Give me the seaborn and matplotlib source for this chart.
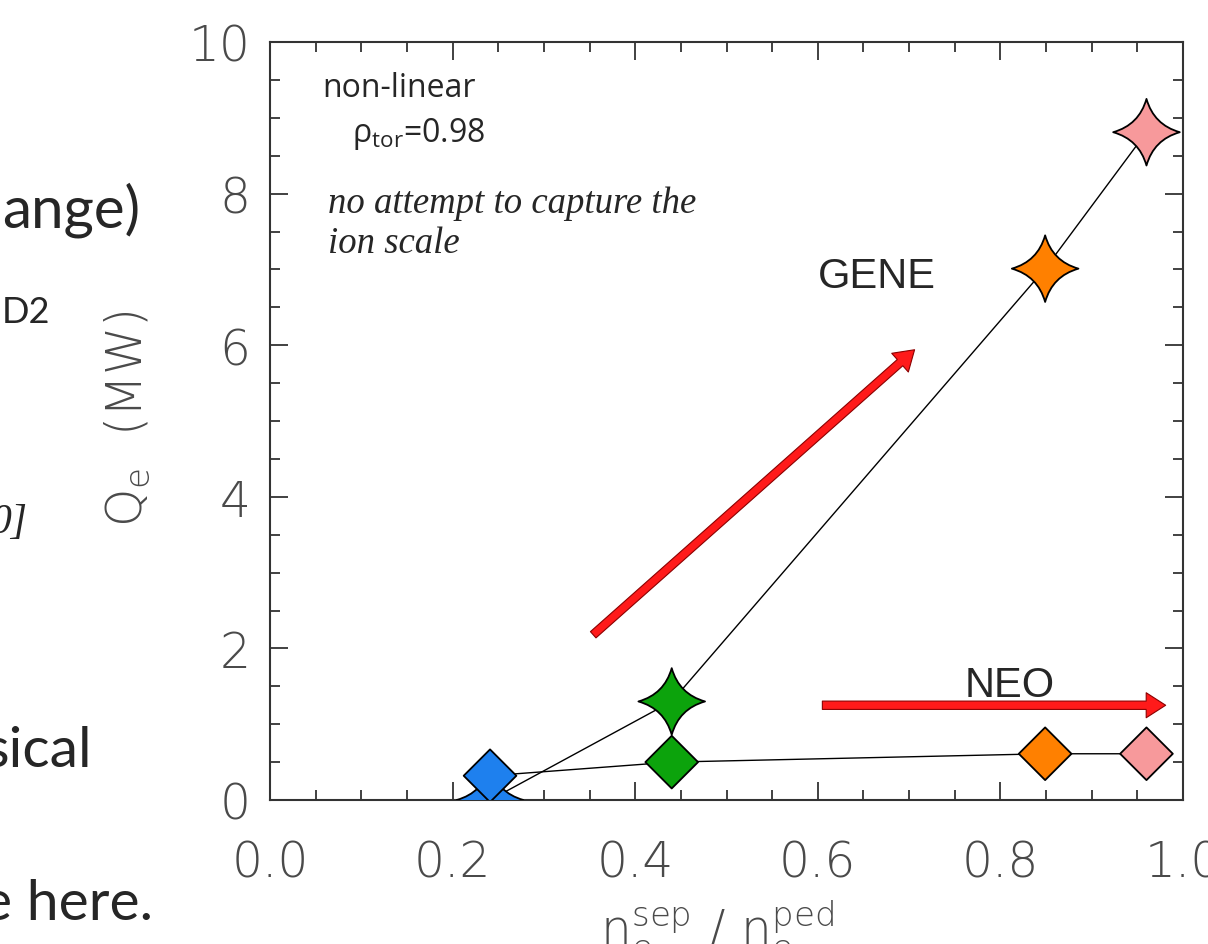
import numpy as np
import pandas as pd
import matplotlib
matplotlib.use("Agg")
import matplotlib.pyplot as plt
from matplotlib.path import Path
from matplotlib.patches import FancyArrowPatch
from matplotlib.ticker import MultipleLocator
import seaborn as sns

# ---------------- data ----------------
cases = ["case1", "case2", "case3", "case4"]
x_ratio = [0.241, 0.440, 0.849, 0.960]          # n_e^sep / n_e^ped
gene_qe = [0.0, 1.30, 7.01, 8.81]               # GENE Q_e (MW)
neo_qe = [0.32, 0.50, 0.61, 0.61]               # NEO Q_e (MW)
case_colors = ["#1e80ee", "#0ca30c", "#ff8000", "#f7999b"]
x_ticks = [0.0, 0.2, 0.4, 0.6, 0.8, 1.0]
x_tick_labels = ["0.0", "0.2", "0.4", "0.6", "0.8", "1.0"]
y_ticks = [0, 2, 4, 6, 8, 10]
y_tick_labels = ["0", "2", "4", "6", "8", "10"]
gene_arrow = [(0.354, 2.18), (0.706, 5.94)]
neo_arrow = [(0.605, 1.25), (0.981, 1.25)]

sns.set_style("ticks")
plt.rcParams["font.family"] = ["DejaVu Sans"]

W, H = 1208, 945
fig = plt.figure(figsize=(W / 100, H / 100), dpi=100)
ax = fig.add_axes([270 / W, (H - 801) / H, 913 / W, 758 / H])

df = pd.DataFrame({"case": cases, "x": x_ratio, "gene": gene_qe, "neo": neo_qe})
palette = dict(zip(cases, case_colors))

# four-pointed star marker with concave sides
c = 0.22
star = Path(
    [(0, 1), (c, c), (1, 0), (c, -c), (0, -1), (-c, -c), (-1, 0), (-c, c), (0, 1), (0, 1)],
    [Path.MOVETO, Path.CURVE3, Path.CURVE3, Path.CURVE3, Path.CURVE3,
     Path.CURVE3, Path.CURVE3, Path.CURVE3, Path.CURVE3, Path.CLOSEPOLY],
)

sns.lineplot(data=df, x="x", y="gene", color="black", lw=1.0, sort=False,
             estimator=None, ax=ax, zorder=2)
sns.lineplot(data=df, x="x", y="neo", color="black", lw=1.0, sort=False,
             estimator=None, ax=ax, zorder=2)
sns.scatterplot(data=df, x="x", y="gene", hue="case", palette=palette, marker=star,
                s=2300, edgecolor="black", linewidth=1.3, legend=False, ax=ax, zorder=3)
sns.scatterplot(data=df, x="x", y="neo", hue="case", palette=palette, marker="D",
                s=720, edgecolor="black", linewidth=1.3, legend=False, ax=ax, zorder=4)

ax.set_xlim(0, 1)
ax.set_ylim(0, 10)

tick_font = dict(fontsize=35, fontweight=200, color="#4a4a4a", family=["DejaVu Sans"])
ax.set_xticks(x_ticks, x_tick_labels, **tick_font)
ax.set_yticks(y_ticks, y_tick_labels, **tick_font)
ax.xaxis.set_minor_locator(MultipleLocator(0.05))
ax.yaxis.set_minor_locator(MultipleLocator(0.5))
ax.tick_params(which="both", direction="in", top=True, right=True,
               color="#333333", width=1.3)
ax.tick_params(which="major", length=13)
ax.tick_params(which="minor", length=7)
ax.tick_params(axis="x", pad=28)
ax.tick_params(axis="y", pad=14)
for s in ax.spines.values():
    s.set_color("#333333")
    s.set_linewidth(1.5)

ax.set_ylabel(r"Q$_\mathregular{e}$  (MW)", **tick_font)
ax.yaxis.set_label_coords(-0.129, 0.505)
ax.set_xlabel(r"n$_\mathregular{e}^\mathregular{sep}$ / n$_\mathregular{e}^\mathregular{ped}$",
              **tick_font)
ax.xaxis.set_label_coords(0.49, -0.128)

# arrows
for (x0, y0), (x1, y1) in (gene_arrow, neo_arrow):
    ax.add_patch(FancyArrowPatch((x0, y0), (x1, y1),
                                 arrowstyle="simple,head_length=0.7,head_width=0.9,tail_width=0.3",
                                 mutation_scale=20, facecolor="#ff1a1a", edgecolor="#8b0000",
                                 lw=0.8, shrinkA=0, shrinkB=0, zorder=5))

# annotations inside the axes
sans = ["Open Sans", "DejaVu Sans"]
ax.text(0.057, 9.29, "non-linear", fontsize=23, family=sans, va="baseline")
ax.text(0.0898, 8.69, r"ρ$_\mathregular{tor}$=0.98", fontsize=23, family=sans, va="baseline")
ax.text(0.0635, 7.76, "no attempt to capture the", fontsize=26.5, family=["Liberation Serif"],
        style="italic", va="baseline")
ax.text(0.0635, 7.23, "ion scale", fontsize=26.5, family=["Liberation Serif"],
        style="italic", va="baseline")
ax.text(0.665, 6.77, "GENE", fontsize=30, family=["Liberation Sans"], ha="center", va="baseline")
ax.text(0.81, 1.37, "NEO", fontsize=30, family=["Liberation Sans"], ha="center", va="baseline")

# cropped slide text on the left
slide = ["Lato", "DejaVu Sans"]
fig.text(140 / W, 1 - 227 / H, "ange)", fontsize=42, family=slide, ha="right", va="baseline")
fig.text(50 / W, 1 - 323 / H, "D2", fontsize=26, family=slide, ha="right", va="baseline")
fig.text(28 / W, 1 - 533 / H, "0]", fontsize=30, family=["Liberation Serif"], style="italic",
         ha="right", va="baseline")
fig.text(92 / W, 1 - 767 / H, "sical", fontsize=41, family=slide, ha="right", va="baseline")
fig.text(153 / W, 1 - 920 / H, "e here.", fontsize=41, family=slide, ha="right", va="baseline")

fig.savefig("out.png", dpi=100)
